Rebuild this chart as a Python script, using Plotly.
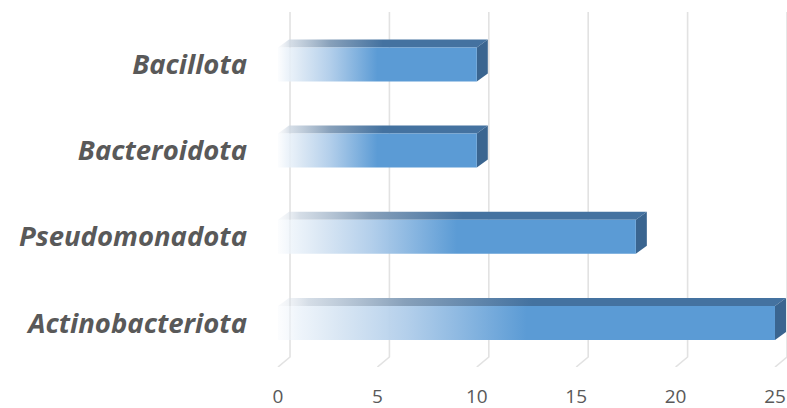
import plotly.graph_objects as go

# ---- data ----
categories = ["Actinobacteriota", "Pseudomonadota", "Bacteroidota", "Bacillota"]
values = [25, 18, 10, 10]
x_ticks = [0, 5, 10, 15, 20, 25]

# ---- geometry / style (not data) ----
PX_X = 19.87          # px per x unit
PX_Y = 86.2           # px per category step
half_h = 17 / PX_Y    # half bar thickness
dx = 11 / PX_X        # depth offset x
dy = 8 / PX_Y         # depth offset y
grid_dx = 12 / PX_X
floor_dy = 10 / PX_Y
y0 = -0.5104
y1 = y0 + 367 / PX_Y
grid_top = y0 + (367 - 12) / PX_Y

FRONT = "rgb(91,155,213)"
TOP = "rgb(68,114,160)"
SIDE = "rgb(58,101,144)"
TXT = "#595959"

front_cs = [[0, "rgba(240,245,251,0.2)"], [0.04, "rgba(236,243,250,0.85)"],
            [0.12, "rgba(215,229,243,0.92)"], [0.26, "rgba(176,205,234,0.96)"],
            [0.5, FRONT], [1, FRONT]]
top_cs = [[0, "rgba(225,231,238,0.2)"], [0.06, "rgba(205,215,226,0.85)"],
          [0.25, "rgb(135,160,186)"], [0.5, TOP], [1, TOP]]

fig = go.Figure()

# back-wall gridlines with floor ticks
gx, gy = [], []
for k in x_ticks:
    bx = k + grid_dx
    gx += [bx, bx, k, None]
    gy += [grid_top, y0 + floor_dy, y0, None]
fig.add_trace(go.Scatter(x=gx, y=gy, mode="lines", hoverinfo="skip",
                         line=dict(color="#e2e2e2", width=1.6)))

for i, (cat, v) in enumerate(zip(categories, values)):
    c = i
    # top face
    fig.add_trace(go.Scatter(
        x=[0, v, v + dx, dx, 0],
        y=[c + half_h, c + half_h, c + half_h + dy, c + half_h + dy, c + half_h],
        mode="lines", fill="toself", line=dict(width=0), hoverinfo="skip",
        fillgradient=dict(type="horizontal", colorscale=top_cs, start=0, stop=v + dx)))
    # side face
    fig.add_trace(go.Scatter(
        x=[v, v + dx, v + dx, v, v],
        y=[c - half_h, c - half_h + dy, c + half_h + dy, c + half_h, c - half_h],
        mode="lines", fill="toself", line=dict(width=0), fillcolor=SIDE, hoverinfo="skip"))
    # front face
    fig.add_trace(go.Scatter(
        x=[0, v, v, 0, 0],
        y=[c - half_h, c - half_h, c + half_h, c + half_h, c - half_h],
        mode="lines", fill="toself", line=dict(width=0), name=cat,
        hovertemplate=cat + ": %{x}<extra></extra>",
        fillgradient=dict(type="horizontal", colorscale=front_cs, start=0, stop=v)))

fig.update_layout(
    width=787, height=408,
    margin=dict(l=270, r=0, t=0, b=41),
    paper_bgcolor="white", plot_bgcolor="white",
    showlegend=False,
    xaxis=dict(range=[-8 / PX_X, 25 + 12 / PX_X], tickvals=x_ticks,
               showgrid=False, zeroline=False, showline=False,
               ticks="outside", ticklen=12, tickcolor="rgba(0,0,0,0)",
               tickfont=dict(family="Open Sans", size=19, color=TXT)),
    yaxis=dict(range=[y0, y1], tickvals=list(range(len(categories))), ticktext=categories,
               showgrid=False, zeroline=False, showline=False, ticks="",
               ticklabelstandoff=22,
               tickfont=dict(family="Open Sans", size=27.5, color=TXT, weight="bold", style="italic")),
)

fig.write_html("out.html")
